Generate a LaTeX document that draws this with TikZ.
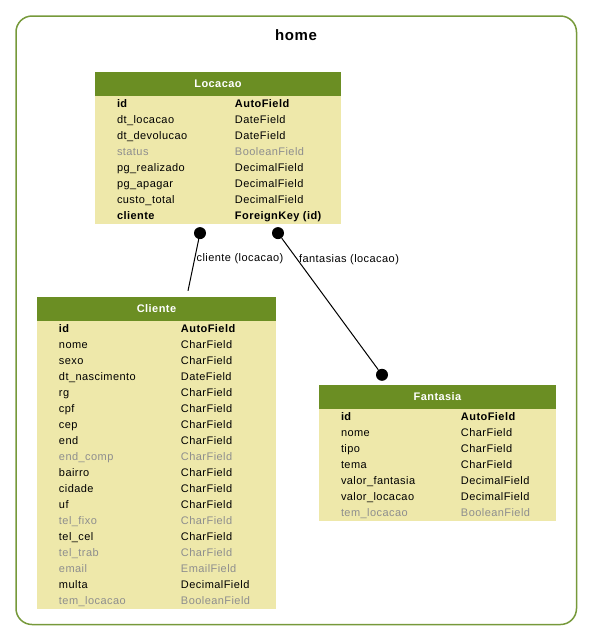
\documentclass[tikz,border=0pt]{standalone}
\usepackage{fontspec}
\usepackage{array}
\setmainfont{Liberation Sans}
\newfontfamily\fldfont{Liberation Sans}[LetterSpace=4]
\usetikzlibrary{positioning, calc}
\definecolor{hdgreen}{HTML}{6B8E23}
\definecolor{rowyellow}{HTML}{EEE8AA}
\definecolor{fldgray}{HTML}{8E8E8E}
\definecolor{framegreen}{HTML}{76993A}
\newcommand{\fdim}[1]{\textcolor{fldgray}{#1}}

\begin{document}
\begin{tikzpicture}[x=1pt, y=-1pt,
  tblhead/.style={
    fill=hdgreen, text=white, minimum width=#1, minimum height=24pt,
    inner sep=0pt, font=\fldfont\bfseries\fontsize{11}{13}\selectfont
  },
  tblbody/.style={
    fill=rowyellow, inner sep=0pt,
    font=\fldfont\fontsize{11}{16}\selectfont
  },
  fkdot/.style={circle, fill=black, minimum size=12pt, inner sep=0pt},
  fkline/.style={draw=black, line width=1pt},
  fklabel/.style={anchor=west, inner sep=1.5pt,
    font=\fldfont\fontsize{11}{13}\selectfont}
  ]

\useasboundingbox (0,0) rectangle (592,641);

% Frame of the app
\draw[framegreen, line width=1.5pt, rounded corners=16pt] (16,16) rectangle (576.5,624.5);
\node[font=\fldfont\bfseries\fontsize{15}{18}\selectfont] (title) at (296,35) {home};

% --- Locacao ---
\node[tblhead=246pt] (loc-head) at (218,83.5) {Locacao};
\node[tblbody, below=0pt of loc-head] (loc-body)
  {\begin{tabular}{@{\hspace{22pt}}p{118pt}@{}p{106pt}@{}}
     \textbf{id} & \textbf{AutoField} \\
     dt\_locacao & DateField \\
     dt\_devolucao & DateField \\
     \fdim{status} & \fdim{BooleanField} \\
     pg\_realizado & DecimalField \\
     pg\_apagar & DecimalField \\
     custo\_total & DecimalField \\
     \textbf{cliente} & \textbf{ForeignKey (id)}
   \end{tabular}};

% --- Cliente ---
\node[tblhead=239pt] (cli-head) at (156.5,309) {Cliente};
\node[tblbody, below=0pt of cli-head] (cli-body)
  {\begin{tabular}{@{\hspace{22pt}}p{122pt}@{}p{95pt}@{}}
     \textbf{id} & \textbf{AutoField} \\
     nome & CharField \\
     sexo & CharField \\
     dt\_nascimento & DateField \\
     rg & CharField \\
     cpf & CharField \\
     cep & CharField \\
     end & CharField \\
     \fdim{end\_comp} & \fdim{CharField} \\
     bairro & CharField \\
     cidade & CharField \\
     uf & CharField \\
     \fdim{tel\_fixo} & \fdim{CharField} \\
     tel\_cel & CharField \\
     \fdim{tel\_trab} & \fdim{CharField} \\
     \fdim{email} & \fdim{EmailField} \\
     multa & DecimalField \\
     \fdim{tem\_locacao} & \fdim{BooleanField}
   \end{tabular}};

% --- Fantasia ---
\node[tblhead=237pt] (fan-head) at (437.5,397) {Fantasia};
\node[tblbody, below=0pt of fan-head] (fan-body)
  {\begin{tabular}{@{\hspace{22pt}}p{120pt}@{}p{95pt}@{}}
     \textbf{id} & \textbf{AutoField} \\
     nome & CharField \\
     tipo & CharField \\
     tema & CharField \\
     valor\_fantasia & DecimalField \\
     valor\_locacao & DecimalField \\
     \fdim{tem\_locacao} & \fdim{BooleanField}
   \end{tabular}};

% Relations
\node[fkdot] (loc-d1) at ($(loc-body.south)+(-18,9)$) {};
\node[fkdot] (loc-d2) at ($(loc-body.south)+(60,9)$) {};
\node[fkdot] (fan-d) at ($(fan-head.north)+(-55.5,-10)$) {};
\coordinate (cli-end) at ($(cli-head.north)+(31.5,-6)$);

\draw[fkline] (loc-d1) -- node[fklabel, pos=0.38] {cliente (locacao)} (cli-end);
\draw[fkline] (loc-d2) -- node[fklabel, pos=0.16] {fantasias (locacao)} (fan-d);

\end{tikzpicture}
\end{document}
